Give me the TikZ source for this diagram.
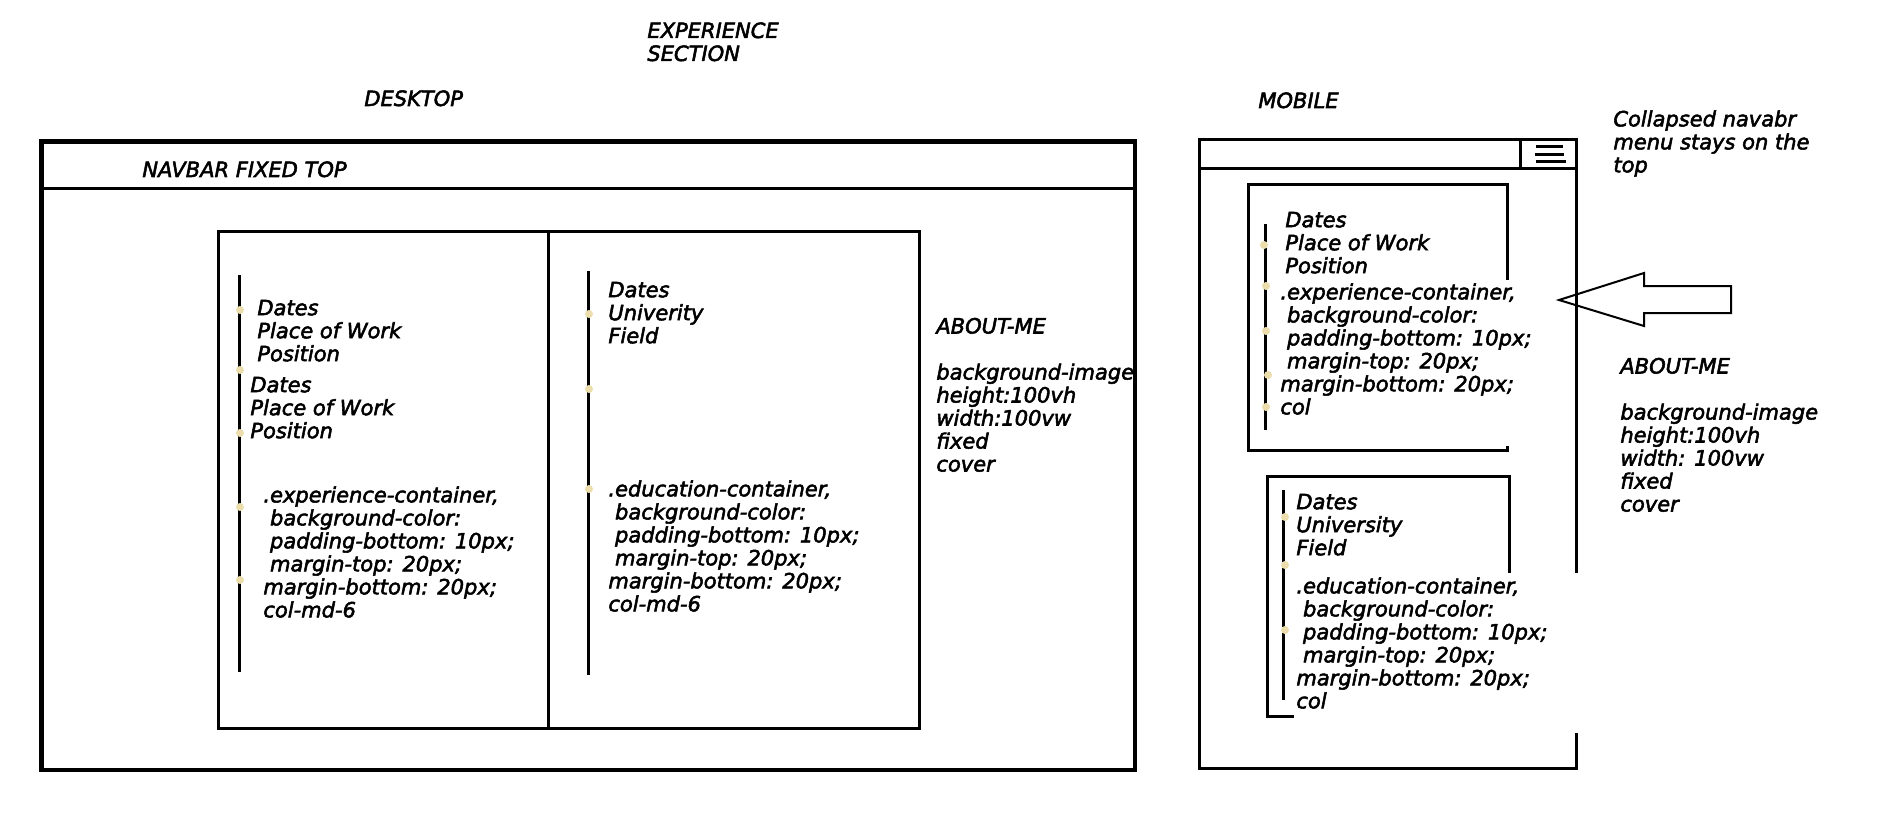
\documentclass[tikz,border=0pt]{standalone}
\usepackage{fontspec}
\setmainfont{DejaVu Sans}[FakeBold=2.5]
\usetikzlibrary{positioning}
\definecolor{dotyellow}{RGB}{236,222,172}
\tikzset{txt/.style={inner sep=0pt, anchor=north west, align=left, font=\itshape\fontsize{10.5pt}{11.5pt}\selectfont}}
\tikzset{dot/.style={circle, fill=dotyellow, inner sep=0pt, minimum size=4pt}}
\tikzset{frame/.style={line width=2.4pt}, box/.style={line width=1.5pt}}

\begin{document}
\begin{tikzpicture}[x=0.5pt, y=-0.5pt]
\useasboundingbox (0,0) rectangle (1886,819);

% headings
\node[txt] (title) at (647,22) {EXPERIENCE\\SECTION};
\node[txt] (desktop) at (364,90) {DESKTOP};
\node[txt] (mobile) at (1258,92) {MOBILE};

% desktop page
\draw[frame] (41.5,141.5) rectangle (1135,770);
\draw[box] (41,188.5) -- (1135,188.5);
\node[txt] (navbar) at (142,161) {NAVBAR FIXED TOP};
\draw[box] (218,231) rectangle (919,728);
\draw[box] (548,231) -- (548,728);
\draw[box] (239,275) -- (239,672);
\draw[box] (588,271) -- (588,675);
\foreach \y [count=\i] in {310,370,433,507,580}
  \node[dot] (dl\i) at (240,\y) {};
\foreach \y [count=\i] in {314,389,489}
  \node[dot] (dr\i) at (589,\y) {};

\node[txt] (expdates1) at (257,299.5) {Dates\\Place of Work\\Position};
\node[txt] (expdates2) at (250,376.5) {Dates\\Place of Work\\Position};
\node[txt] (expcss) at (263,486) {.experience-container,\\\ background-color:\\\ padding-bottom: 10px;\\\ margin-top: 20px;\\margin-bottom: 20px;\\col-md-6};
\node[txt] (edudates) at (608,281.5) {Dates\\Univerity\\Field};
\node[txt] (educss) at (608,480) {.education-container,\\\ background-color:\\\ padding-bottom: 10px;\\\ margin-top: 20px;\\margin-bottom: 20px;\\col-md-6};
\node[txt] (aboutd) at (936,317.5) {ABOUT-ME\\[11.5pt]background-image\\height:100vh\\width:100vw\\fixed\\cover};

% mobile page
\draw[box] (1576,573) -- (1576,139) -- (1199,139) -- (1199,768) -- (1576,768) -- (1576,733);
\draw[box] (1199,168) -- (1576,168);
\draw[box] (1520,139) -- (1520,168);
\draw[line width=1.5pt] (1536,146) -- (1563,146) (1535,154) -- (1564,154) (1536,161) -- (1566,161);

\draw[box] (1507,280) -- (1507,184) -- (1248,184) -- (1248,450) -- (1507,450) -- (1507,446);
\draw[box] (1265,224) -- (1265,430);
\foreach \y/\x [count=\i] in {245/1264,286/1266,331/1266,375/1268,407/1266}
  \node[dot] (ml\i) at (\x,\y) {};
\node[txt] (mexpdates) at (1285,211.5) {Dates\\Place of Work\\Position};
\node[txt] (mexpcss) at (1280,283) {.experience-container,\\\ background-color:\\\ padding-bottom: 10px;\\\ margin-top: 20px;\\margin-bottom: 20px;\\col};

\draw[box] (1509,573) -- (1509,476) -- (1267,476) -- (1267,716) -- (1294,716);
\draw[box] (1283,490) -- (1283,700);
\foreach \y [count=\i] in {517,565,630}
  \node[dot] (mr\i) at (1285,\y) {};
\node[txt] (medudates) at (1296,493.5) {Dates\\University\\Field};
\node[txt] (meducss) at (1296,577) {.education-container,\\\ background-color:\\\ padding-bottom: 10px;\\\ margin-top: 20px;\\margin-bottom: 20px;\\col};

% note and arrow
\node[txt] (collapsed) at (1613,110) {Collapsed navabr\\menu stays on the\\top};
\draw[line width=1pt] (1559,300) -- (1644,273) -- (1644,286) -- (1731,286) -- (1731,313) -- (1644,313) -- (1644,326) -- cycle;
\node[txt] (aboutm) at (1620,357.5) {ABOUT-ME\\[11.5pt]background-image\\height:100vh\\width: 100vw\\fixed\\cover};
\end{tikzpicture}
\end{document}
